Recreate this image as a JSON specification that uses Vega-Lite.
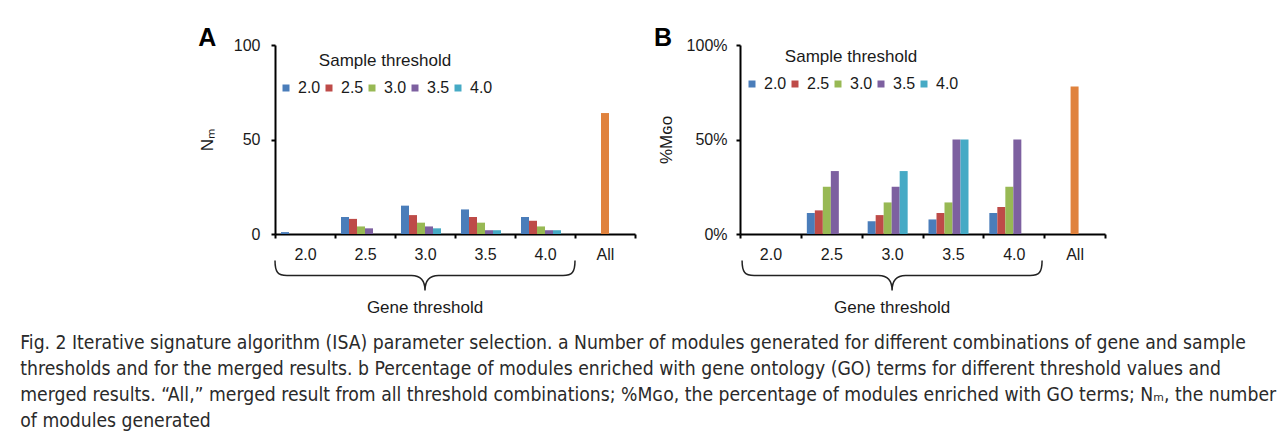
{
  "$schema": "https://vega.github.io/schema/vega-lite/v6.json",
  "background": "white",
  "autosize": {"type": "pad"},
  "padding": {"left": 20, "top": 26, "right": 5, "bottom": 2},
  "spacing": 18,
  "datasets": {
    "nm": [
      {"gene": "2.0", "sample": "2.0", "value": 1},
      {"gene": "2.5", "sample": "2.0", "value": 9},
      {"gene": "2.5", "sample": "2.5", "value": 8},
      {"gene": "2.5", "sample": "3.0", "value": 4},
      {"gene": "2.5", "sample": "3.5", "value": 3},
      {"gene": "3.0", "sample": "2.0", "value": 15},
      {"gene": "3.0", "sample": "2.5", "value": 10},
      {"gene": "3.0", "sample": "3.0", "value": 6},
      {"gene": "3.0", "sample": "3.5", "value": 4},
      {"gene": "3.0", "sample": "4.0", "value": 3},
      {"gene": "3.5", "sample": "2.0", "value": 13},
      {"gene": "3.5", "sample": "2.5", "value": 9},
      {"gene": "3.5", "sample": "3.0", "value": 6},
      {"gene": "3.5", "sample": "3.5", "value": 2},
      {"gene": "3.5", "sample": "4.0", "value": 2},
      {"gene": "4.0", "sample": "2.0", "value": 9},
      {"gene": "4.0", "sample": "2.5", "value": 7},
      {"gene": "4.0", "sample": "3.0", "value": 4},
      {"gene": "4.0", "sample": "3.5", "value": 2},
      {"gene": "4.0", "sample": "4.0", "value": 2},
      {"gene": "All", "sample": "All", "value": 64}
    ],
    "pgo": [
      {"gene": "2.5", "sample": "2.0", "value": 0.111},
      {"gene": "2.5", "sample": "2.5", "value": 0.125},
      {"gene": "2.5", "sample": "3.0", "value": 0.25},
      {"gene": "2.5", "sample": "3.5", "value": 0.333},
      {"gene": "3.0", "sample": "2.0", "value": 0.067},
      {"gene": "3.0", "sample": "2.5", "value": 0.1},
      {"gene": "3.0", "sample": "3.0", "value": 0.167},
      {"gene": "3.0", "sample": "3.5", "value": 0.25},
      {"gene": "3.0", "sample": "4.0", "value": 0.333},
      {"gene": "3.5", "sample": "2.0", "value": 0.077},
      {"gene": "3.5", "sample": "2.5", "value": 0.111},
      {"gene": "3.5", "sample": "3.0", "value": 0.167},
      {"gene": "3.5", "sample": "3.5", "value": 0.5},
      {"gene": "3.5", "sample": "4.0", "value": 0.5},
      {"gene": "4.0", "sample": "2.0", "value": 0.111},
      {"gene": "4.0", "sample": "2.5", "value": 0.143},
      {"gene": "4.0", "sample": "3.0", "value": 0.25},
      {"gene": "4.0", "sample": "3.5", "value": 0.5},
      {"gene": "All", "sample": "All", "value": 0.78}
    ]
  },
  "title": {
    "text": [
      "Fig. 2 Iterative signature algorithm (ISA) parameter selection. a Number of modules generated for different combinations of gene and sample",
      "thresholds and for the merged results. b Percentage of modules enriched with gene ontology (GO) terms for different threshold values and",
      "merged results. “All,” merged result from all threshold combinations; %Mɢᴏ, the percentage of modules enriched with GO terms; Nₘ, the number",
      "of modules generated"
    ],
    "orient": "bottom",
    "anchor": "start",
    "frame": "bounds",
    "dx": -178,
    "offset": 18,
    "font": "DejaVu Sans Condensed, Liberation Sans Narrow, Roboto",
    "fontSize": 19.2,
    "fontWeight": "normal",
    "lineHeight": 26,
    "color": "#2a2a2a"
  },
  "resolve": {"scale": {"color": "independent"}, "legend": {"color": "independent"}},
  "hconcat": [
    {
      "width": 360,
      "height": 189,
      "title": {"text": "A", "anchor": "start", "frame": "bounds", "fontSize": 25, "fontWeight": "bold", "font": "Liberation Sans", "offset": -14, "color": "black"},
      "layer": [
        {
          "data": {"name": "nm"},
          "transform": [{"filter": "datum.sample !== 'All'"}],
          "mark": {"type": "bar"},
          "encoding": {
            "x": {"field": "gene", "type": "nominal", "scale": {"domain": ["2.0", "2.5", "3.0", "3.5", "4.0", "All"], "paddingInner": 0, "paddingOuter": 0},
                  "axis": {"title": null, "tickBand": "extent", "labelAngle": 0, "labelPadding": 8}},
            "xOffset": {"field": "sample", "type": "nominal", "scale": {"domain": ["2.0", "2.5", "3.0", "3.5", "4.0", "All"], "paddingInner": 0, "paddingOuter": 0.75}},
            "y": {"field": "value", "type": "quantitative", "scale": {"domain": [0, 100]},
                  "axis": {"values": [0, 50, 100], "title": "Nₘ", "titlePadding": 17, "labelPadding": 11}},
            "color": {"field": "sample", "type": "nominal",
                      "scale": {"domain": ["2.0", "2.5", "3.0", "3.5", "4.0"], "range": ["#4A7DBA", "#BE4B48", "#98B954", "#7D60A0", "#46AAC5"]},
                      "legend": {"title": "Sample threshold", "legendX": 3, "legendY": 8}}
          }
        },
        {
          "data": {"name": "nm"},
          "transform": [{"filter": "datum.sample === 'All'"}],
          "mark": {"type": "bar", "size": 8, "color": "#E0823D"},
          "encoding": {
            "x": {"field": "gene", "type": "nominal"},
            "y": {"field": "value", "type": "quantitative"}
          }
        },
        {
          "data": {"values": [{}]},
          "mark": {"type": "point", "shape": "M-1,-0.1 C-1,-0.02 -0.98,0 -0.92,0 L-0.09,0 C-0.03,0 0,0.03 0,0.1 C0,0.03 0.03,0 0.09,0 L0.92,0 C0.98,0 1,-0.02 1,-0.1", "size": 90000, "filled": false, "stroke": "#222222", "strokeWidth": 1.5, "opacity": 1},
          "encoding": {
            "x": {"datum": "3.0", "type": "nominal"},
            "y": {"datum": -22, "type": "quantitative"}
          }
        },
        {
          "data": {"values": [{}]},
          "mark": {"type": "text", "text": "Gene threshold", "fontSize": 17, "baseline": "middle", "align": "center", "color": "#1a1a1a"},
          "encoding": {
            "x": {"datum": "3.0", "type": "nominal"},
            "y": {"datum": -39, "type": "quantitative"}
          }
        }
      ]
    },
    {
      "width": 365,
      "height": 189,
      "title": {"text": "B", "anchor": "start", "frame": "bounds", "fontSize": 25, "fontWeight": "bold", "font": "Liberation Sans", "offset": -14, "dx": -3, "color": "black"},
      "layer": [
        {
          "data": {"name": "pgo"},
          "transform": [{"filter": "datum.sample !== 'All'"}],
          "mark": {"type": "bar"},
          "encoding": {
            "x": {"field": "gene", "type": "nominal", "scale": {"domain": ["2.0", "2.5", "3.0", "3.5", "4.0", "All"], "paddingInner": 0, "paddingOuter": 0},
                  "axis": {"title": null, "tickBand": "extent", "labelAngle": 0, "labelPadding": 8}},
            "xOffset": {"field": "sample", "type": "nominal", "scale": {"domain": ["2.0", "2.5", "3.0", "3.5", "4.0", "All"], "paddingInner": 0, "paddingOuter": 0.75}},
            "y": {"field": "value", "type": "quantitative", "scale": {"domain": [0, 1]},
                  "axis": {"values": [0, 0.5, 1], "format": ".0%", "title": "%Mɢᴏ", "titlePadding": 11, "labelPadding": 9}},
            "color": {"field": "sample", "type": "nominal",
                      "scale": {"domain": ["2.0", "2.5", "3.0", "3.5", "4.0"], "range": ["#4A7DBA", "#BE4B48", "#98B954", "#7D60A0", "#46AAC5"]},
                      "legend": {"title": "Sample threshold", "legendX": 4, "legendY": 4}}
          }
        },
        {
          "data": {"name": "pgo"},
          "transform": [{"filter": "datum.sample === 'All'"}],
          "mark": {"type": "bar", "size": 8, "color": "#E0823D"},
          "encoding": {
            "x": {"field": "gene", "type": "nominal"},
            "y": {"field": "value", "type": "quantitative"}
          }
        },
        {
          "data": {"values": [{}]},
          "mark": {"type": "point", "shape": "M-1,-0.1 C-1,-0.02 -0.98,0 -0.92,0 L-0.09,0 C-0.03,0 0,0.03 0,0.1 C0,0.03 0.03,0 0.09,0 L0.92,0 C0.98,0 1,-0.02 1,-0.1", "size": 90000, "filled": false, "stroke": "#222222", "strokeWidth": 1.5, "opacity": 1},
          "encoding": {
            "x": {"datum": "3.0", "type": "nominal"},
            "y": {"datum": -0.22, "type": "quantitative"}
          }
        },
        {
          "data": {"values": [{}]},
          "mark": {"type": "text", "text": "Gene threshold", "fontSize": 17, "baseline": "middle", "align": "center", "color": "#1a1a1a"},
          "encoding": {
            "x": {"datum": "3.0", "type": "nominal"},
            "y": {"datum": -0.39, "type": "quantitative"}
          }
        }
      ]
    }
  ],
  "config": {
    "view": {"stroke": null},
    "font": "Liberation Sans",
    "text": {"font": "Liberation Sans"},
    "axis": {
      "grid": false,
      "domainColor": "black",
      "domainWidth": 2,
      "tickColor": "black",
      "tickWidth": 2,
      "tickSize": 4,
      "labelFont": "Liberation Sans",
      "labelFontSize": 16,
      "labelColor": "#1a1a1a",
      "titleFont": "Liberation Sans",
      "titleFontSize": 17,
      "titleFontWeight": "normal",
      "titleColor": "#1a1a1a"
    },
    "legend": {
      "orient": "none",
      "direction": "horizontal",
      "symbolType": "square",
      "symbolSize": 49,
      "symbolStrokeWidth": 0,
      "labelFont": "Liberation Sans",
      "labelFontSize": 16,
      "labelColor": "#1a1a1a",
      "labelOffset": 4,
      "columnPadding": 0,
      "titleFont": "Liberation Sans",
      "titleFontSize": 17,
      "titleFontWeight": "normal",
      "titleColor": "#1a1a1a",
      "titleAnchor": "middle",
      "titlePadding": 10
    }
  }
}
